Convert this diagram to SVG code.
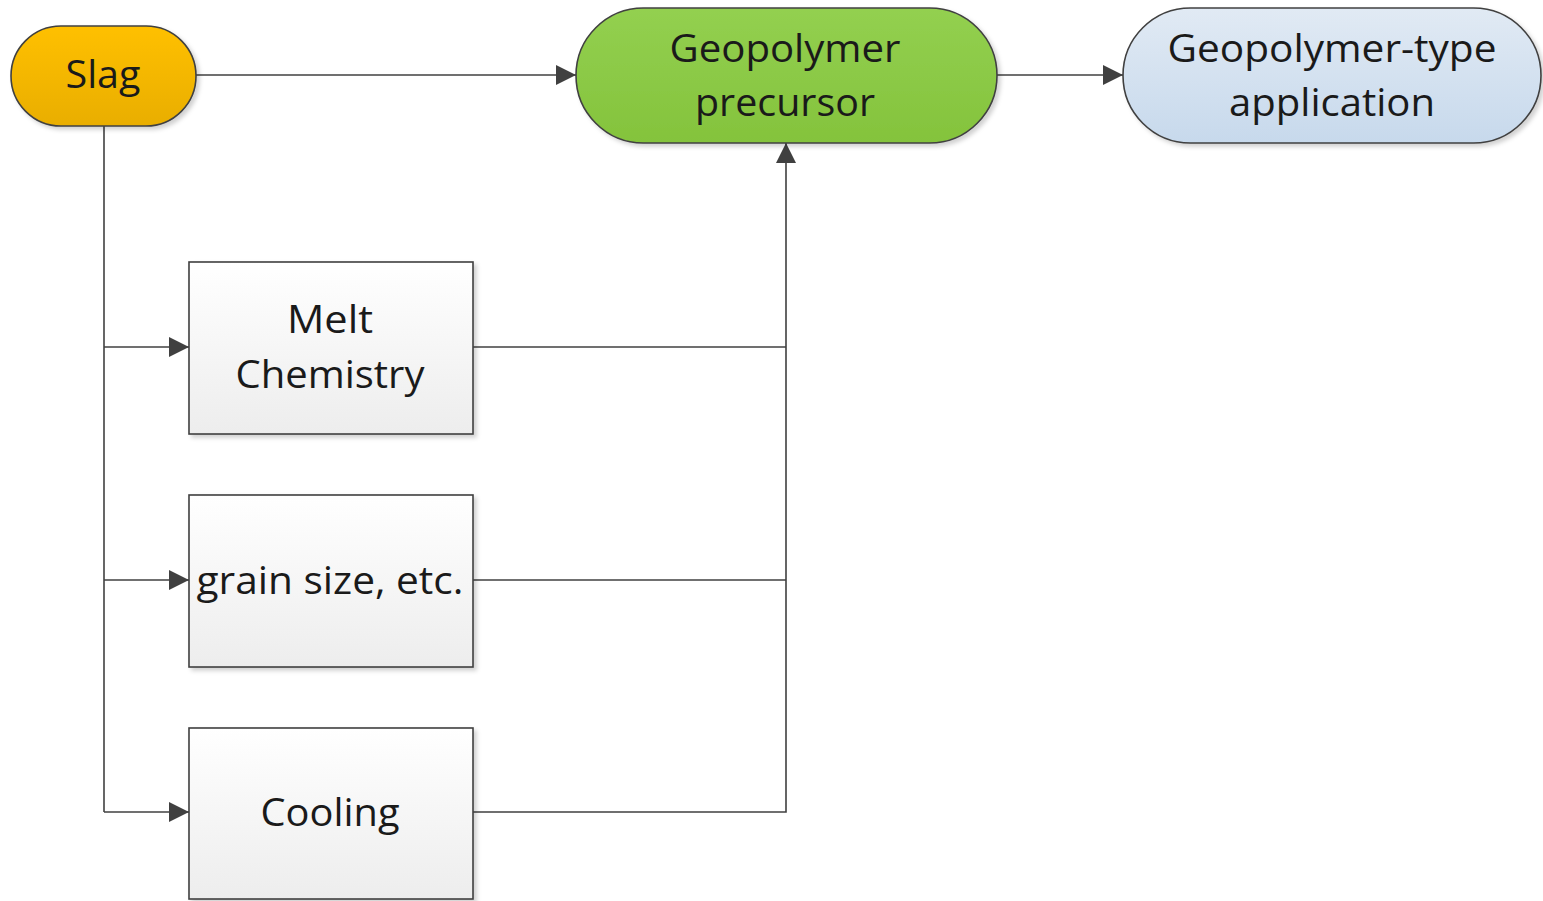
<svg xmlns="http://www.w3.org/2000/svg" width="1543" height="901" viewBox="0 0 1543 901">
<defs>
<linearGradient id="gSlag" x1="0" y1="0" x2="0" y2="1"><stop offset="0" stop-color="#FFC000"/><stop offset="1" stop-color="#E9AE00"/></linearGradient>
<linearGradient id="gGreen" x1="0" y1="0" x2="0" y2="1"><stop offset="0" stop-color="#93D050"/><stop offset="1" stop-color="#84C33C"/></linearGradient>
<linearGradient id="gBlue" x1="0" y1="0" x2="0" y2="1"><stop offset="0" stop-color="#E1EAF4"/><stop offset="1" stop-color="#C7D9EC"/></linearGradient>
<linearGradient id="gBox" x1="0" y1="0" x2="0" y2="1"><stop offset="0" stop-color="#FFFFFF"/><stop offset="1" stop-color="#EDEDED"/></linearGradient>
<filter id="sh" x="-10%" y="-10%" width="130%" height="130%"><feDropShadow dx="3" dy="3" stdDeviation="2" flood-color="#000" flood-opacity="0.18"/></filter>
<marker id="arr" viewBox="0 0 10 10" refX="10" refY="5" markerWidth="20" markerHeight="20" markerUnits="userSpaceOnUse" orient="auto"><path d="M0,0 L10,5 L0,10 z" fill="#404040"/></marker>
</defs>
<style>
.n{stroke:#404040;stroke-width:1.6;filter:url(#sh)}
.t{font-family:"Open Sans","Noto Sans",sans-serif;font-size:38px;fill:#1a1a1a;text-anchor:middle}
.c{fill:none;stroke:#404040;stroke-width:1.6}
</style>
<g id="connectors">
<path class="c" d="M196,75 H576" marker-end="url(#arr)"/>
<path class="c" d="M997,75 H1123" marker-end="url(#arr)"/>
<path class="c" d="M104,126 V812"/>
<path class="c" d="M104,347 H189" marker-end="url(#arr)"/>
<path class="c" d="M104,580 H189" marker-end="url(#arr)"/>
<path class="c" d="M104,812 H189" marker-end="url(#arr)"/>
<path class="c" d="M473,347 H786"/>
<path class="c" d="M473,580 H786"/>
<path class="c" d="M473,812 H786 V143" marker-end="url(#arr)"/>
</g>
<g id="slag">
<rect class="n" x="11" y="26" width="185" height="100" rx="50" fill="url(#gSlag)"/>
<text class="t" x="103" y="88" textLength="75" lengthAdjust="spacingAndGlyphs">Slag</text>
</g>
<g id="precursor">
<rect class="n" x="576" y="8" width="421" height="135" rx="67.5" fill="url(#gGreen)"/>
<text class="t" x="785" y="62" textLength="231" lengthAdjust="spacingAndGlyphs">Geopolymer</text>
<text class="t" x="785" y="116" textLength="180" lengthAdjust="spacingAndGlyphs">precursor</text>
</g>
<g id="application">
<rect class="n" x="1123" y="8" width="418" height="135" rx="67.5" fill="url(#gBlue)"/>
<text class="t" x="1332" y="62" textLength="329" lengthAdjust="spacingAndGlyphs">Geopolymer-type</text>
<text class="t" x="1332" y="116" textLength="206" lengthAdjust="spacingAndGlyphs">application</text>
</g>
<g id="melt">
<rect class="n" x="189" y="262" width="284" height="172" fill="url(#gBox)"/>
<text class="t" x="330" y="333" textLength="86" lengthAdjust="spacingAndGlyphs">Melt</text>
<text class="t" x="330" y="388" textLength="189" lengthAdjust="spacingAndGlyphs">Chemistry</text>
</g>
<g id="grain">
<rect class="n" x="189" y="495" width="284" height="172" fill="url(#gBox)"/>
<text class="t" x="330" y="594" textLength="267" lengthAdjust="spacingAndGlyphs">grain size, etc.</text>
</g>
<g id="cooling">
<rect class="n" x="189" y="728" width="284" height="171" fill="url(#gBox)"/>
<text class="t" x="330" y="826" textLength="139" lengthAdjust="spacingAndGlyphs">Cooling</text>
</g>
</svg>
